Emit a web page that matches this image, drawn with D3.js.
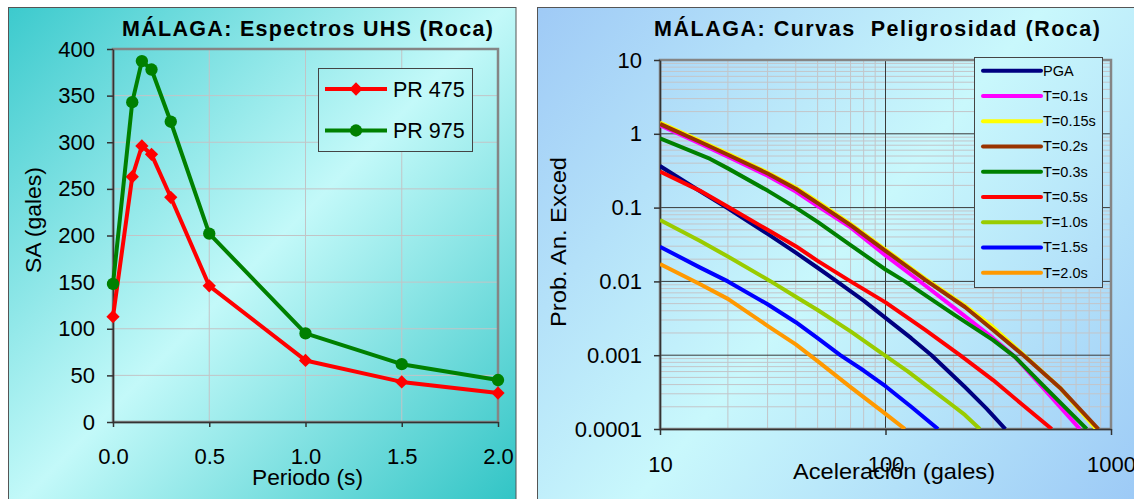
<!DOCTYPE html>
<html>
<head>
<meta charset="utf-8">
<script src="https://cdn.jsdelivr.net/npm/d3@7"></script>
<style>
  body { margin: 0; background: #fff; }
  text { font-family: "Liberation Sans", Arial, sans-serif; fill: #000; }
  .title { font-weight: bold; font-size: 21.5px; white-space: pre; }
  .tick text { font-size: 22px; }
  .axisLabel { font-size: 22px; }
  .legend_text { font-size: 21.5px; }
  .legend_small { font-size: 14.5px; }
</style>
</head>
<body>
<div id="chart"></div>
<script>

//data: UHS spectra
var periods = [0, 0.1, 0.15, 0.2, 0.3, 0.5, 1.0, 1.5, 2.0];
var pr475 = [113, 263, 296, 287, 241, 146, 66, 43, 31];
var pr975 = [148, 343, 387, 378, 322, 202, 95, 62, 45];
var saTicks = [0, 50, 100, 150, 200, 250, 300, 350, 400];
var periodTicks = [0, 0.5, 1.0, 1.5, 2.0];

//data: hazard curves [acceleration (gales), annual exceedance prob]
var curveNames = ["PGA", "T=0.1s", "T=0.15s", "T=0.2s", "T=0.3s", "T=0.5s", "T=1.0s", "T=1.5s", "T=2.0s"];
var curveColors = ["#000080", "#ff00ff", "#ffff00", "#993300", "#008000", "#ff0000", "#99cc00", "#0000ff", "#ff9900"];
var pga = [[10,0.366],[15,0.168],[20,0.098],[30,0.044],[40,0.0245],[50,0.0153],[60,0.0103],[80,0.0055],[100,0.0032],[130,0.0017],[160,0.001],[225,0.00037],[280,0.00019],[340,0.0001]];
var t010 = [[10,1.30],[15,0.74],[20,0.49],[30,0.27],[40,0.165],[50,0.105],[70,0.054],[100,0.0225],[150,0.0088],[203,0.0043],[300,0.0017],[375,0.00095],[500,0.00036],[728,0.0001]];
var t015 = [[10,1.42],[15,0.81],[20,0.54],[30,0.30],[40,0.187],[50,0.12],[70,0.06],[100,0.027],[150,0.0109],[225,0.0047],[300,0.0024],[416,0.00097],[600,0.00035],[860,0.0001]];
var t020 = [[10,1.36],[15,0.78],[20,0.52],[30,0.29],[40,0.18],[50,0.115],[70,0.058],[100,0.026],[150,0.0105],[225,0.0045],[300,0.0022],[416,0.00095],[600,0.00035],[879,0.0001]];
var t030 = [[10,0.87],[16.7,0.456],[20,0.34],[30,0.17],[40,0.1],[50,0.064],[70,0.031],[100,0.0145],[122,0.01],[150,0.0065],[203,0.0035],[300,0.0016],[375,0.00095],[500,0.00039],[780,0.0001]];
var t050 = [[10,0.307],[15,0.17],[20,0.103],[30,0.05],[40,0.03],[50,0.019],[70,0.01],[100,0.0052],[150,0.0022],[214,0.001],[300,0.00046],[400,0.00022],[546,0.0001]];
var t100 = [[10,0.068],[15,0.0355],[20,0.0217],[31,0.01],[40,0.0062],[50,0.0041],[70,0.0021],[100,0.00098],[126,0.0006],[150,0.0004],[200,0.000205],[225,0.000155],[262,0.0001]];
var t150 = [[10,0.0295],[15,0.0155],[20,0.01],[30,0.0049],[40,0.0028],[50,0.0017],[63,0.001],[80,0.00062],[100,0.00038],[130,0.0002],[171,0.0001]];
var t200 = [[10,0.0172],[15,0.0092],[20,0.0058],[30,0.0025],[40,0.0014],[50,0.00083],[70,0.00037],[100,0.00016],[122,0.0001]];
var curves = [pga, t010, t015, t020, t030, t050, t100, t150, t200];
var accTicks = [10, 100, 1000];
var probTicks = [0.0001, 0.001, 0.01, 0.1, 1, 10];


var width = 1134;
var height = 499;

var svg = d3.select("#chart")
            .append('svg')
            .attr("width", width)
            .attr("height", height);

var defs = svg.append('defs');

function addGradient(id, x1, y1, x2, y2, c0, c1, c2) {
  var g = defs.append('linearGradient')
      .attr('id', id)
      .attr('gradientUnits', 'userSpaceOnUse')
      .attr('x1', x1).attr('y1', y1)
      .attr('x2', x2).attr('y2', y2);
  g.append('stop').attr('offset', 0).attr('stop-color', c0);
  g.append('stop').attr('offset', 0.5).attr('stop-color', c1);
  g.append('stop').attr('offset', 1).attr('stop-color', c2);
}

addGradient('bgLeft', 8, 7, 516, 505, '#3ccacd', '#c3f9f9', '#30c4c5');
addGradient('bgRight', 537, 7, 1140, 505, '#9fcaf6', '#c9f8fc', '#9cc9f6');


/* ---------------- left chart: UHS spectra ---------------- */

var L = {left: 113, right: 498, top: 49, bottom: 422};

svg.append('rect')
    .attr('x', 8.5).attr('y', 7.5)
    .attr('width', 507.5).attr('height', 500)
    .style('fill', 'url(#bgLeft)')
    .style('stroke', '#555')
    .style('stroke-width', 1);

var xScale = d3.scaleLinear()
                .domain([0, 2])
                .range([L.left, L.right]);

var yScale = d3.scaleLinear()
                .domain([0, 400])
                .range([L.bottom, L.top]);

var gl = svg.append('g');

//gridlines
gl.selectAll('.hgrid')
  .data(saTicks.slice(1))
  .enter()
  .append('line')
  .attr('x1', L.left).attr('x2', L.right)
  .attr('y1', function(d) {return yScale(d);})
  .attr('y2', function(d) {return yScale(d);})
  .style('stroke', '#c2c4c6')
  .style('stroke-width', 1);

gl.selectAll('.vgrid')
  .data(periodTicks.slice(1))
  .enter()
  .append('line')
  .attr('y1', L.top).attr('y2', L.bottom)
  .attr('x1', function(d) {return xScale(d);})
  .attr('x2', function(d) {return xScale(d);})
  .style('stroke', '#c2c4c6')
  .style('stroke-width', 1);

//plot frame
gl.append('rect')
  .attr('x', L.left).attr('y', L.top)
  .attr('width', L.right - L.left).attr('height', L.bottom - L.top)
  .style('fill', 'none')
  .style('stroke', '#858585')
  .style('stroke-width', 2.5);

//y axis
gl.append('g')
  .attr('transform', 'translate(' + L.left + ',0)')
  .call(d3.axisLeft(yScale)
          .tickValues(saTicks)
          .tickSizeInner(6)
          .tickSizeOuter(0)
          .tickPadding(12));

//x axis
gl.append('g')
  .attr('transform', 'translate(0,' + L.bottom + ')')
  .call(d3.axisBottom(xScale)
          .tickValues(periodTicks)
          .tickFormat(d3.format('.1f'))
          .tickSizeInner(5)
          .tickSizeOuter(0)
          .tickPadding(21));

gl.selectAll('.domain, .tick line')
  .style('stroke', '#333')
  .style('stroke-width', 1.5);

//series
var spectra = [
  {name: 'PR 475', values: pr475, color: '#ff0000', marker: 'diamond'},
  {name: 'PR 975', values: pr975, color: '#008000', marker: 'circle'}
];

var specLine = d3.line()
                 .x(function(d, i) {return xScale(periods[i]);})
                 .y(function(d) {return yScale(d);});

function drawMarker(g, m, color) {
  if (m == 'diamond') {
    g.append('path')
      .attr('d', d3.symbol().type(d3.symbolSquare).size(88)())
      .attr('transform', 'rotate(45)')
      .style('fill', color);
  } else {
    g.append('path')
      .attr('d', d3.symbol().type(d3.symbolCircle).size(120)())
      .style('fill', color);
  }
}

spectra.forEach(function(s) {
  gl.append('path')
    .datum(s.values)
    .attr('d', specLine)
    .style('fill', 'none')
    .style('stroke', s.color)
    .style('stroke-width', 4)
    .style('stroke-linejoin', 'round');

  s.values.forEach(function(v, i) {
    var m = gl.append('g')
      .attr('transform', 'translate(' + xScale(periods[i]) + ',' + yScale(v) + ')');
    drawMarker(m, s.marker, s.color);
  });
});

//legend
gl.append('rect')
  .attr('x', 318.5).attr('y', 68.5)
  .attr('width', 154).attr('height', 83)
  .style('fill', 'url(#bgLeft)')
  .style('stroke', '#444')
  .style('stroke-width', 1);

spectra.forEach(function(s, i) {
  var ly = 89 + i * 41.5;
  gl.append('line')
    .attr('x1', 325).attr('x2', 387)
    .attr('y1', ly).attr('y2', ly)
    .style('stroke', s.color)
    .style('stroke-width', 4);
  var m = gl.append('g').attr('transform', 'translate(356,' + ly + ')');
  drawMarker(m, s.marker, s.color);
  gl.append('text')
    .attr('class', 'legend_text')
    .attr('x', 393)
    .attr('y', ly + 7.5)
    .text(s.name);
});

//title
gl.append('text')
  .attr('class', 'title')
  .attr('x', 122)
  .attr('y', 36)
  .attr('textLength', 371)
  .attr('lengthAdjust', 'spacing')
  .text('MÁLAGA: Espectros UHS (Roca)');

//axis labels
gl.append('text')
  .attr('class', 'axisLabel')
  .attr('x', 252)
  .attr('y', 485)
  .attr('textLength', 111)
  .attr('lengthAdjust', 'spacingAndGlyphs')
  .text('Periodo (s)');

gl.append('text')
  .attr('class', 'axisLabel')
  .attr('transform', 'translate(41,273) rotate(-90)')
  .attr('textLength', 106)
  .attr('lengthAdjust', 'spacingAndGlyphs')
  .text('SA (gales)');


/* ---------------- right chart: hazard curves ---------------- */

var R = {left: 660, right: 1111, top: 60, bottom: 429};

svg.append('rect')
    .attr('x', 537.5).attr('y', 7.5)
    .attr('width', 610).attr('height', 500)
    .style('fill', 'url(#bgRight)')
    .style('stroke', '#555')
    .style('stroke-width', 1);

var hx = d3.scaleLog()
           .domain([10, 1000])
           .range([R.left, R.right]);

var hy = d3.scaleLog()
           .domain([0.0001, 10])
           .range([R.bottom, R.top]);

var gr = svg.append('g');

//minor gridlines
var minorX = [], minorY = [];
[10, 100].forEach(function(b) { for (var k = 2; k <= 9; k++) minorX.push(b * k); });
[0.0001, 0.001, 0.01, 0.1, 1].forEach(function(b) { for (var k = 2; k <= 9; k++) minorY.push(b * k); });

gr.selectAll('.mx')
  .data(minorX).enter().append('line')
  .attr('x1', function(d) {return hx(d);}).attr('x2', function(d) {return hx(d);})
  .attr('y1', R.top).attr('y2', R.bottom)
  .style('stroke', '#c3c5c9').style('stroke-width', 1);

gr.selectAll('.my')
  .data(minorY).enter().append('line')
  .attr('y1', function(d) {return hy(d);}).attr('y2', function(d) {return hy(d);})
  .attr('x1', R.left).attr('x2', R.right)
  .style('stroke', '#c3c5c9').style('stroke-width', 1);

//major gridlines
gr.selectAll('.Mx')
  .data([100]).enter().append('line')
  .attr('x1', function(d) {return hx(d);}).attr('x2', function(d) {return hx(d);})
  .attr('y1', R.top).attr('y2', R.bottom)
  .style('stroke', '#3a3a3a').style('stroke-width', 1);

gr.selectAll('.My')
  .data([0.001, 0.01, 0.1, 1]).enter().append('line')
  .attr('y1', function(d) {return hy(d);}).attr('y2', function(d) {return hy(d);})
  .attr('x1', R.left).attr('x2', R.right)
  .style('stroke', '#3a3a3a').style('stroke-width', 1);

//plot frame
gr.append('rect')
  .attr('x', R.left).attr('y', R.top)
  .attr('width', R.right - R.left).attr('height', R.bottom - R.top)
  .style('fill', 'none')
  .style('stroke', '#858585')
  .style('stroke-width', 2.5);

//axes
gr.append('g')
  .attr('transform', 'translate(' + R.left + ',0)')
  .call(d3.axisLeft(hy)
          .tickValues(probTicks)
          .tickFormat(function(d) {return d >= 1 ? d3.format('d')(d) : String(+d.toPrecision(1));})
          .tickSizeInner(6)
          .tickSizeOuter(0)
          .tickPadding(12));

gr.append('g')
  .attr('transform', 'translate(0,' + R.bottom + ')')
  .call(d3.axisBottom(hx)
          .tickValues(accTicks)
          .tickFormat(d3.format('d'))
          .tickSizeInner(6)
          .tickSizeOuter(0)
          .tickPadding(21));

gr.selectAll('.domain, .tick line')
  .style('stroke', '#333')
  .style('stroke-width', 1.5);

//curves
defs.append('clipPath').attr('id', 'clipR')
  .append('rect')
  .attr('x', R.left).attr('y', R.top)
  .attr('width', R.right - R.left).attr('height', R.bottom - R.top);

var hazLine = d3.line()
                .x(function(d) {return hx(d[0]);})
                .y(function(d) {return hy(d[1]);});

var cg = gr.append('g').attr('clip-path', 'url(#clipR)');

curves.forEach(function(c, i) {
  cg.append('path')
    .datum(c)
    .attr('d', hazLine)
    .style('fill', 'none')
    .style('stroke', curveColors[i])
    .style('stroke-width', 4)
    .style('stroke-linejoin', 'round');
});

//legend
gr.append('rect')
  .attr('x', 974.5).attr('y', 57.5)
  .attr('width', 128).attr('height', 230)
  .style('fill', 'url(#bgRight)')
  .style('stroke', '#444')
  .style('stroke-width', 1);

curveNames.forEach(function(n, i) {
  var ly = 70.7 + i * 25.25;
  gr.append('line')
    .attr('x1', 983).attr('x2', 1041)
    .attr('y1', ly).attr('y2', ly)
    .style('stroke', curveColors[i])
    .style('stroke-width', 4)
    .style('stroke-linecap', 'round');
  gr.append('text')
    .attr('class', 'legend_small')
    .attr('x', 1043)
    .attr('y', ly + 5)
    .text(n);
});

//title
gr.append('text')
  .attr('class', 'title')
  .attr('x', 654)
  .attr('y', 36)
  .attr('textLength', 446)
  .attr('lengthAdjust', 'spacing')
  .text('MÁLAGA: Curvas  Peligrosidad (Roca)');

//axis labels
gr.append('text')
  .attr('class', 'axisLabel')
  .attr('x', 793)
  .attr('y', 479)
  .attr('textLength', 202)
  .attr('lengthAdjust', 'spacingAndGlyphs')
  .text('Aceleración (gales)');

gr.append('text')
  .attr('class', 'axisLabel')
  .attr('transform', 'translate(566,327) rotate(-90)')
  .attr('textLength', 170)
  .attr('lengthAdjust', 'spacingAndGlyphs')
  .text('Prob. An. Exced');

</script>
</body>
</html>
